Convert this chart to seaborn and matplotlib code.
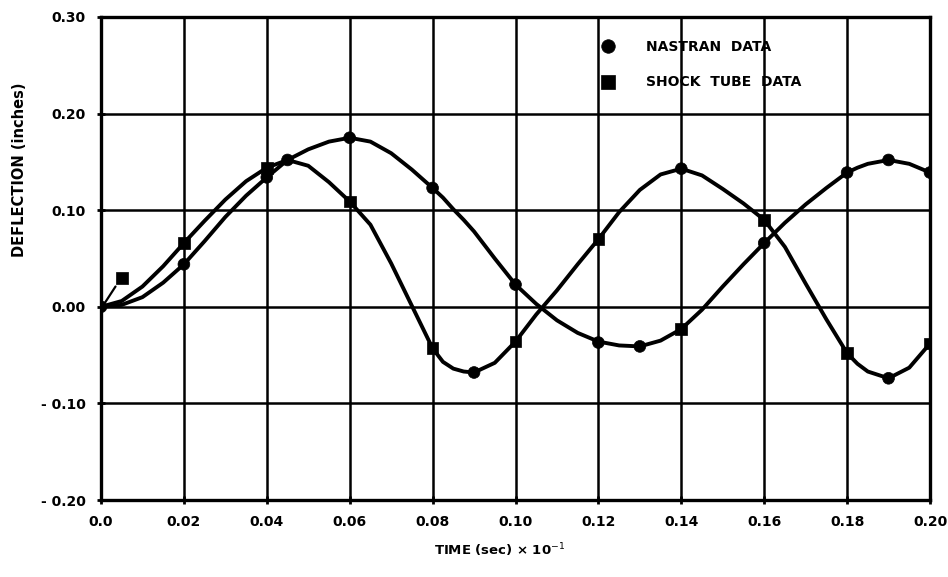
import numpy as np
import pandas as pd
import matplotlib
matplotlib.use("Agg")
import matplotlib.pyplot as plt
import seaborn as sns

# ---- data ----
curve_t = [0.000, 0.005, 0.010, 0.015, 0.020, 0.025, 0.030, 0.035, 0.040, 0.045,
           0.050, 0.055, 0.060, 0.065, 0.070, 0.075, 0.080, 0.0825, 0.085, 0.0875, 0.090, 0.095,
           0.100, 0.105, 0.110, 0.115, 0.120, 0.125, 0.130, 0.135, 0.140, 0.145,
           0.150, 0.155, 0.160, 0.165, 0.170, 0.175, 0.180, 0.1825, 0.185, 0.190, 0.195, 0.200]
curve_a = [0.000, 0.002, 0.010, 0.025, 0.044, 0.068, 0.093, 0.115, 0.134, 0.152,
           0.163, 0.171, 0.175, 0.171, 0.159, 0.142, 0.123, 0.113, 0.101, 0.090, 0.078, 0.050,
           0.023, 0.003, -0.014, -0.027, -0.036, -0.040, -0.041, -0.035, -0.023, -0.003,
           0.021, 0.044, 0.066, 0.087, 0.106, 0.123, 0.139, 0.144, 0.148, 0.152, 0.148, 0.139]
curve_b = [0.000, 0.006, 0.021, 0.042, 0.066, 0.089, 0.111, 0.130, 0.144, 0.152,
           0.146, 0.129, 0.109, 0.085, 0.045, 0.001, -0.043, -0.057, -0.064, -0.067, -0.068, -0.058,
           -0.036, -0.008, 0.017, 0.044, 0.070, 0.098, 0.121, 0.137, 0.143, 0.136,
           0.122, 0.107, 0.090, 0.062, 0.024, -0.013, -0.048, -0.059, -0.067, -0.074, -0.063, -0.038]

nastran_t = [0.000, 0.020, 0.040, 0.045, 0.060, 0.080, 0.090, 0.100, 0.120, 0.130,
             0.140, 0.160, 0.180, 0.190, 0.200, 0.190]
nastran_y = [0.000, 0.044, 0.134, 0.152, 0.175, 0.123, -0.068, 0.023, -0.037, -0.041,
             0.143, 0.066, 0.139, 0.152, 0.139, -0.074]
shock_t = [0.005, 0.020, 0.040, 0.060, 0.080, 0.100, 0.120, 0.140, 0.160, 0.180, 0.200]
shock_y = [0.030, 0.066, 0.144, 0.109, -0.043, -0.036, 0.070, -0.023, 0.090, -0.048, -0.038]

x_ticks = [0.00, 0.02, 0.04, 0.06, 0.08, 0.10, 0.12, 0.14, 0.16, 0.18, 0.20]
x_labels = ["0.0", "0.02", "0.04", "0.06", "0.08", "0.10", "0.12", "0.14", "0.16", "0.18", "0.20"]
y_ticks = [-0.20, -0.10, 0.00, 0.10, 0.20, 0.30]
y_labels = ["- 0.20", "- 0.10", "0.00", "0.10", "0.20", "0.30"]

NAST = "NASTRAN  DATA"
SHOCK = "SHOCK  TUBE  DATA"

# ---- figure ----
sns.set_theme(style="whitegrid")
plt.rcParams["font.family"] = ["DejaVu Sans"]

fig = plt.figure(figsize=(9.48, 5.77), dpi=100)
ax = fig.add_axes([101 / 948, 1 - 500 / 577, 829 / 948, 483 / 577])
ax.set_facecolor("white")

curves = pd.DataFrame({"t": curve_t * 2,
                       "y": curve_a + curve_b,
                       "curve": ["A"] * len(curve_t) + ["B"] * len(curve_t)})
sns.lineplot(data=curves, x="t", y="y", units="curve", estimator=None,
             color="black", linewidth=2.8, ax=ax, legend=False, sort=False,
             solid_joinstyle="round", solid_capstyle="round")

pts = pd.DataFrame({"t": nastran_t + shock_t,
                    "y": nastran_y + shock_y,
                    "series": [NAST] * len(nastran_t) + [SHOCK] * len(shock_t)})
sns.scatterplot(data=pts, x="t", y="y", style="series",
                markers={NAST: "o", SHOCK: "s"}, color="black",
                s=72, edgecolor="black", linewidth=0.5, ax=ax, zorder=4)

# leader line from origin toward the isolated shock-tube point
lx = shock_t[0]
ly = shock_y[0]
ax.plot([lx * 0.2, lx * 0.7], [ly * 0.15, ly * 0.7], color="black", lw=1.6)

ax.set_xlim(x_ticks[0], x_ticks[-1])
ax.set_ylim(y_ticks[0], y_ticks[-1])
ax.set_xticks(x_ticks)
ax.set_xticklabels(x_labels, fontsize=10, fontweight="bold")
ax.set_yticks(y_ticks)
ax.set_yticklabels(y_labels, fontsize=10, fontweight="bold")
ax.grid(True, color="black", linewidth=1.8)
ax.set_axisbelow(True)
for sp in ax.spines.values():
    sp.set_color("black")
    sp.set_linewidth(2.4)
ax.tick_params(axis="both", which="major", direction="inout", length=6, width=2,
               color="black", labelcolor="black", pad=8, bottom=True, left=True)

ax.set_xlabel("TIME (sec) × 10$^{-1}$", fontsize=9.5, fontweight="bold", color="black")
ax.set_ylabel("DEFLECTION (inches)", fontsize=10.5, fontweight="bold", color="black")
ax.xaxis.set_label_coords(0.481, -0.085)
ax.yaxis.set_label_coords(-0.089, 0.683)

leg = ax.legend(loc="upper left", bbox_to_anchor=(0.588, 0.964), frameon=False,
                prop={"weight": "bold", "size": 10}, handletextpad=1.75,
                labelspacing=1.55, markerscale=1.15, borderaxespad=0)
for txt in leg.get_texts():
    txt.set_color("black")

fig.savefig("out.png", dpi=100, facecolor="white")
